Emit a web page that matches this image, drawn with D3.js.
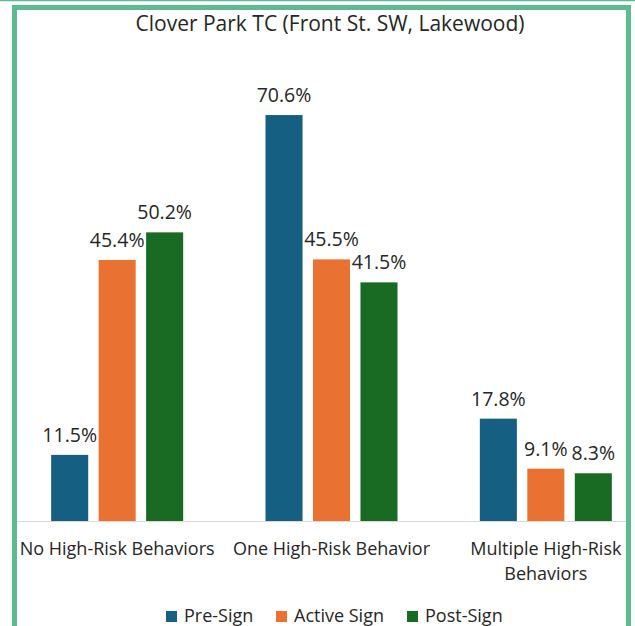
<!DOCTYPE html>
<html>
<head>
<meta charset="utf-8">
<script src="https://cdn.jsdelivr.net/npm/d3@7"></script>
<style>
  body { margin: 0; background: #fff; }
  svg { display: block; font-family: "Open Sans", "Liberation Sans", sans-serif; }
  .lbl { fill: #262626; font-size: 18px; text-anchor: middle; }
  .val { font-size: 19.5px; }
</style>
</head>
<body>
<div id="chart"></div>
<script>
// chart values
const categories = ['No High-Risk Behaviors', 'One High-Risk Behavior', 'Multiple High-Risk Behaviors'];
const seriesNames = ['Pre-Sign', 'Active Sign', 'Post-Sign'];
const preSign = [11.5, 70.6, 17.8];
const activeSign = [45.4, 45.5, 9.1];
const postSign = [50.2, 41.5, 8.3];
const colors = ['#156082', '#E97132', '#196B24'];

const width = 635, height = 626,
    margin = {top: 60, left: 10, right: -18, bottom: 105},
    baseY = height - margin.bottom;

const series = [preSign, activeSign, postSign];
const rows = [];
categories.forEach((c, i) => series.forEach((s, j) => rows.push({cat: c, key: seriesNames[j], value: s[i], j: j})));

const svg = d3.select('#chart').append('svg')
    .attr('width', width).attr('height', height);

// frame
svg.append('line').attr('x1', 0).attr('x2', width).attr('y1', 0.5).attr('y2', 0.5)
    .attr('stroke', '#5bbd8f').attr('stroke-width', 1.5);
svg.append('rect').attr('x', 14.5).attr('y', 7.5).attr('width', 614).attr('height', 700)
    .attr('fill', 'none').attr('stroke', '#5bbd8f').attr('stroke-width', 5);

// scales
let groupW = 132,
    x0 = d3.scaleBand().domain(categories).range([margin.left, width - margin.right]),
    x1 = d3.scaleBand().domain(seriesNames).range([0, groupW]).paddingInner(0.22),
    y = d3.scaleLinear().domain([0, 80]).range([baseY, baseY - 460]);

// title
svg.append('text').attr('class', 'lbl').attr('x', 330).attr('y', 31)
    .style('font-size', '21px')
    .text('Clover Park TC (Front St. SW, Lakewood)');

// baseline
svg.append('line').attr('x1', 17).attr('x2', 626).attr('y1', baseY + 0.5).attr('y2', baseY + 0.5)
    .attr('stroke', '#d9d9d9').attr('stroke-width', 1);

const groupX = d => x0(d.cat) + x0.bandwidth() / 2 - groupW / 2 + x1(d.key);

// bars
svg.selectAll('rect.bar').data(rows).enter().append('rect')
    .classed('bar', true)
    .attr('x', groupX)
    .attr('y', d => y(d.value))
    .attr('width', x1.bandwidth())
    .attr('height', d => baseY - y(d.value))
    .attr('fill', d => colors[d.j]);

// value labels
svg.selectAll('text.val').data(rows).enter().append('text')
    .attr('class', 'lbl val')
    .attr('x', d => groupX(d) + x1.bandwidth() / 2)
    .attr('y', d => y(d.value) - 13)
    .text(d => d.value.toFixed(1) + '%');

// category labels
const catLines = {'Multiple High-Risk Behaviors': ['Multiple High-Risk', 'Behaviors']};
categories.forEach(c => {
    const lines = catLines[c] || [c];
    const t = svg.append('text').attr('class', 'lbl')
        .attr('x', x0(c) + x0.bandwidth() / 2).attr('y', baseY + 34);
    lines.forEach((l, i) => t.append('tspan')
        .attr('x', x0(c) + x0.bandwidth() / 2).attr('dy', i ? 25 : 0).text(l));
});

// legend
const legendX = [166, 276, 407];
const lg = svg.selectAll('g.legend').data(seriesNames).enter().append('g')
    .attr('transform', (d, i) => `translate(${legendX[i]},611)`);
lg.append('rect').attr('width', 11).attr('height', 11).attr('fill', (d, i) => colors[i]);
lg.append('text').attr('class', 'lbl').style('text-anchor', 'start')
    .attr('x', 18).attr('y', 10.5).text(d => d);
</script>
</body>
</html>
